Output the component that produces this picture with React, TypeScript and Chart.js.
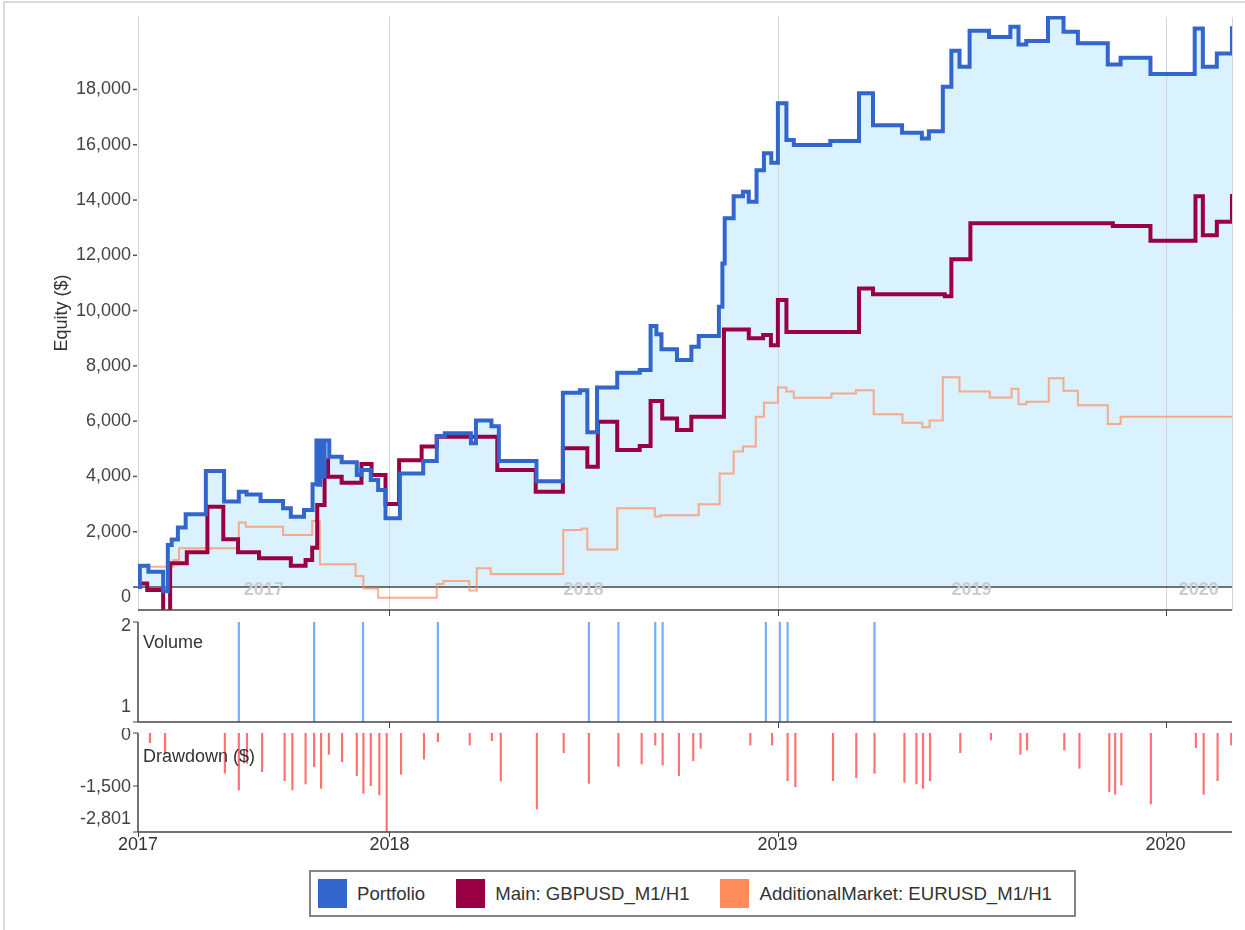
import React, { useEffect, useRef } from 'react';
import { Chart, registerables } from 'chart.js';

Chart.register(...registerables);

const FONT_FAMILY = '"Liberation Sans", Arial, Helvetica, sans-serif';

// ---- axis ranges / ticks (decimal years on x) ----
const xStart = 2017.3522;
const xEnd = 2020.1711;
const yearBoundaries = [2018, 2019, 2020];
const yearLabels = ['2017', '2018', '2019', '2020'];
const bottomTickValues = [xStart, 2018, 2019, 2020];

const equityTicks = [2000, 4000, 6000, 8000, 10000, 12000, 14000, 16000, 18000];
const equityMin = -832;
const equityMax = 20658;
const volumeTicks = [1, 2];
const drawdownTicks = [0, -1500, -2801];

// ---- legend ----
const seriesNames = ['Portfolio', 'Main: GBPUSD_M1/H1', 'AdditionalMarket: EURUSD_M1/H1'];
const seriesColors = ['#3366CC', '#990044', '#FF8C5A'];

// ---- Portfolio equity ----
const portfolioDates = [
  2017.352, 2017.357, 2017.379, 2017.417, 2017.429, 2017.439, 2017.455, 2017.475, 2017.527, 2017.574,
  2017.612, 2017.632, 2017.668, 2017.726, 2017.746, 2017.780, 2017.802, 2017.812, 2017.817, 2017.822,
  2017.827, 2017.833, 2017.845, 2017.877, 2017.916, 2017.928, 2017.952, 2017.971, 2017.990, 2018.027,
  2018.087, 2018.122, 2018.143, 2018.210, 2018.223, 2018.263, 2018.282, 2018.379, 2018.447, 2018.491,
  2018.510, 2018.535, 2018.587, 2018.645, 2018.673, 2018.688, 2018.701, 2018.741, 2018.778, 2018.797,
  2018.849, 2018.858, 2018.864, 2018.887, 2018.911, 2018.926, 2018.946, 2018.965, 2018.984, 2019.001,
  2019.023, 2019.042, 2019.136, 2019.210, 2019.246, 2019.321, 2019.372, 2019.390, 2019.426, 2019.448,
  2019.469, 2019.495, 2019.545, 2019.600, 2019.621, 2019.641, 2019.697, 2019.737, 2019.774, 2019.851,
  2019.884, 2019.961, 2020.075, 2020.096, 2020.132, 2020.171,
];
const portfolioValues = [
  0, 770, 550, -150, 1520, 1720, 2150, 2630, 4200, 3090,
  3450, 3350, 3110, 2850, 2540, 2790, 3720, 5300, 3700, 5300,
  4000, 5300, 4710, 4510, 4050, 4230, 3870, 3510, 2490, 4110,
  4560, 5460, 5560, 5200, 6020, 5820, 4560, 3830, 7030, 7120,
  5600, 7220, 7750, 7850, 9440, 9140, 8600, 8210, 8690, 9080,
  10140, 11700, 13340, 14140, 14300, 13940, 15080, 15690, 15350, 17500,
  16170, 15990, 16140, 17860, 16710, 16430, 16230, 16490, 18100, 19400,
  18820, 20120, 19900, 20270, 19630, 19750, 20600, 20090, 19670, 18900,
  19150, 18560, 20210, 18820, 19300, 20290,
];

// ---- Main: GBPUSD equity ----
const mainDates = [
  2017.352, 2017.357, 2017.376, 2017.417, 2017.435, 2017.478, 2017.531, 2017.572, 2017.610, 2017.664,
  2017.746, 2017.784, 2017.801, 2017.814, 2017.833, 2017.842, 2017.877, 2017.928, 2017.954, 2017.990,
  2018.025, 2018.083, 2018.122, 2018.278, 2018.377, 2018.447, 2018.510, 2018.537, 2018.587, 2018.645,
  2018.673, 2018.703, 2018.741, 2018.778, 2018.862, 2018.926, 2018.963, 2018.983, 2019.001, 2019.023,
  2019.210, 2019.246, 2019.431, 2019.448, 2019.497, 2019.864, 2019.961, 2020.077, 2020.096, 2020.132,
  2020.171,
];
const mainValues = [
  0, 130, -110, -900, 860, 1260, 2900, 1730, 1260, 1040,
  770, 980, 1420, 2970, 4590, 3990, 3770, 4450, 4050, 3000,
  4590, 5080, 5440, 4230, 3450, 5020, 4350, 5980, 4960, 5100,
  6730, 6100, 5680, 6160, 9320, 9000, 9120, 8750, 10380, 9230,
  10800, 10590, 10520, 11860, 13160, 13060, 12530, 14140, 12730, 13210,
  14220,
];

// ---- AdditionalMarket: EURUSD equity ----
const additionalDates = [
  2017.352, 2017.357, 2017.443, 2017.458, 2017.612, 2017.630, 2017.726, 2017.801, 2017.821, 2017.913,
  2017.933, 2017.971, 2018.122, 2018.139, 2018.206, 2018.225, 2018.261, 2018.448, 2018.495, 2018.510,
  2018.587, 2018.684, 2018.699, 2018.797, 2018.851, 2018.887, 2018.911, 2018.944, 2018.965, 2019.001,
  2019.023, 2019.042, 2019.139, 2019.202, 2019.248, 2019.322, 2019.373, 2019.392, 2019.426, 2019.469,
  2019.547, 2019.603, 2019.621, 2019.641, 2019.699, 2019.737, 2019.774, 2019.851, 2019.884, 2020.171,
];
const additionalValues = [
  0, 735, 980, 1400, 2330, 2180, 1880, 2390, 820, 400,
  -50, -390, 110, 220, -130, 680, 470, 2060, 2120, 1360,
  2850, 2550, 2600, 2990, 4110, 4900, 5080, 6160, 6670, 7220,
  7070, 6850, 7000, 7120, 6250, 5940, 5780, 6020, 7590, 7070,
  6860, 7170, 6610, 6700, 7550, 7100, 6580, 5900, 6160, 6160,
];

// ---- Volume ----
const volumeDates = [
  2017.612, 2017.806, 2017.932, 2018.125, 2018.514, 2018.590, 2018.685, 2018.704, 2018.970, 2019.006,
  2019.026, 2019.250,
];
const volumeValues = [2, 2, 2, 2, 2, 2, 2, 2, 2, 2, 2, 2];

// ---- Drawdown ----
const drawdownDates = [
  2017.383, 2017.422, 2017.576, 2017.612, 2017.633, 2017.672, 2017.730, 2017.750, 2017.784, 2017.806,
  2017.824, 2017.844, 2017.878, 2017.916, 2017.933, 2017.952, 2017.974, 2017.993, 2018.030, 2018.089,
  2018.125, 2018.207, 2018.264, 2018.287, 2018.380, 2018.449, 2018.514, 2018.590, 2018.650, 2018.685,
  2018.704, 2018.746, 2018.783, 2018.802, 2018.930, 2018.986, 2019.026, 2019.046, 2019.143, 2019.203,
  2019.250, 2019.327, 2019.358, 2019.375, 2019.393, 2019.471, 2019.550, 2019.626, 2019.643, 2019.739,
  2019.778, 2019.855, 2019.870, 2019.886, 2019.962, 2020.078, 2020.098, 2020.134, 2020.169,
];
const drawdownValues = [
  -274, -575, -1141, -1613, -858, -1094, -1349, -1613, -1443, -952,
  -1566, -604, -811, -1207, -1707, -1490, -1754, -2801, -1170, -736,
  -245, -340, -217, -1358, -2150, -557, -1424, -940, -877, -340,
  -905, -1207, -783, -434, -340, -340, -1349, -1519, -1349, -1264,
  -1141, -1396, -1443, -1566, -1349, -557, -198, -604, -481, -481,
  -1000, -1660, -1735, -1471, -2009, -415, -1735, -1349, -340,
];

const fmt = (v: number) =>
  (v < 0 ? '-' : '') + Math.abs(v).toString().replace(/\B(?=(\d{3})+(?!\d))/g, ',');

const pts = (xs: number[], ys: number[]) => xs.map((x, i) => ({ x, y: ys[i] }));

const AXIS_COLOR = '#444';
const LABEL_COLOR = '#444';
const GRID_COLOR = '#D4D4D4';

const xScaleOpts = {
  type: 'linear' as const,
  min: xStart,
  max: xEnd,
  display: false,
  offset: false,
  grid: { offset: false },
};

function hline(ctx: CanvasRenderingContext2D, x1: number, x2: number, y: number) {
  ctx.beginPath();
  ctx.moveTo(x1, y);
  ctx.lineTo(x2, y);
  ctx.stroke();
}
function vline(ctx: CanvasRenderingContext2D, x: number, y1: number, y2: number) {
  ctx.beginPath();
  ctx.moveTo(x, y1);
  ctx.lineTo(x, y2);
  ctx.stroke();
}

const mainDecor = {
  id: 'mainDecor',
  beforeDatasetsDraw(chart: any) {
    const { ctx, chartArea: a } = chart;
    const x = chart.scales.x;
    const y = chart.scales.y;
    ctx.save();
    ctx.lineWidth = 1;
    ctx.strokeStyle = GRID_COLOR;
    for (const yr of yearBoundaries) {
      const px = Math.round(x.getPixelForValue(yr)) + 0.5;
      vline(ctx, px, a.top + 1, a.bottom);
    }
    vline(ctx, Math.round(a.left) + 0.5, a.top + 1, a.bottom);
    vline(ctx, Math.round(a.right) + 0.5, a.top + 1, a.bottom);
    // zero line
    const y0 = y.getPixelForValue(0);
    ctx.strokeStyle = AXIS_COLOR;
    ctx.lineWidth = 1.5;
    hline(ctx, a.left - 5, a.right, y0);
    // year names inside the panel
    ctx.font = `bold 18px ${FONT_FAMILY}`;
    ctx.fillStyle = '#CCCCCC';
    ctx.textAlign = 'center';
    ctx.textBaseline = 'middle';
    const edges = [xStart, ...yearBoundaries, xEnd];
    yearLabels.forEach((lab, i) => {
      const cx = (x.getPixelForValue(edges[i]) + x.getPixelForValue(edges[i + 1])) / 2;
      ctx.fillText(lab, cx, y0 + 3);
    });
    ctx.restore();
  },
  afterDraw(chart: any) {
    const { ctx, chartArea: a } = chart;
    const x = chart.scales.x;
    const y = chart.scales.y;
    ctx.save();
    // bottom axis
    ctx.strokeStyle = AXIS_COLOR;
    ctx.lineWidth = 1.5;
    hline(ctx, a.left, a.right, a.bottom);
    ctx.lineWidth = 1;
    for (const yr of yearBoundaries) {
      const px = Math.round(x.getPixelForValue(yr)) + 0.5;
      vline(ctx, px, a.bottom, a.bottom + 6);
    }
    // y labels
    ctx.font = `18px ${FONT_FAMILY}`;
    ctx.fillStyle = LABEL_COLOR;
    ctx.textAlign = 'right';
    ctx.textBaseline = 'middle';
    ctx.strokeStyle = '#555';
    ctx.lineWidth = 1.5;
    for (const v of equityTicks) {
      const py = y.getPixelForValue(v);
      ctx.fillText(fmt(v), a.left - 7, py);
      hline(ctx, a.left - 5, a.left - 1, py);
    }
    ctx.fillText('0', a.left - 7, y.getPixelForValue(0) + 10);
    // title
    ctx.save();
    ctx.translate(62, (a.top + a.bottom) / 2);
    ctx.rotate(-Math.PI / 2);
    ctx.textAlign = 'center';
    ctx.fillStyle = '#333';
    ctx.fillText('Equity ($)', 0, 0);
    ctx.restore();
    ctx.restore();
  },
};

const volumeDecor = {
  id: 'volumeDecor',
  afterDraw(chart: any) {
    const { ctx, chartArea: a } = chart;
    const x = chart.scales.x;
    const y = chart.scales.y;
    ctx.save();
    ctx.strokeStyle = AXIS_COLOR;
    ctx.lineWidth = 1.5;
    vline(ctx, a.left, a.top, a.bottom);
    hline(ctx, a.left, a.right, a.bottom);
    ctx.lineWidth = 1;
    for (const v of volumeTicks) hline(ctx, a.left - 5, a.left, y.getPixelForValue(v));
    for (const yr of yearBoundaries) {
      const px = Math.round(x.getPixelForValue(yr)) + 0.5;
      vline(ctx, px, a.bottom, a.bottom + 6);
    }
    ctx.font = `18px ${FONT_FAMILY}`;
    ctx.fillStyle = LABEL_COLOR;
    ctx.textAlign = 'right';
    ctx.textBaseline = 'middle';
    ctx.fillText(String(volumeTicks[1]), a.left - 7, y.getPixelForValue(volumeTicks[1]) + 4);
    ctx.fillText(String(volumeTicks[0]), a.left - 7, y.getPixelForValue(volumeTicks[0]) - 15);
    ctx.textAlign = 'left';
    ctx.fillStyle = '#333';
    ctx.fillText('Volume', a.left + 5, a.top + 21);
    ctx.restore();
  },
};

const drawdownDecor = {
  id: 'drawdownDecor',
  afterDraw(chart: any) {
    const { ctx, chartArea: a } = chart;
    const x = chart.scales.x;
    const y = chart.scales.y;
    ctx.save();
    ctx.strokeStyle = AXIS_COLOR;
    ctx.lineWidth = 1.5;
    vline(ctx, a.left, a.top, a.bottom);
    hline(ctx, a.left, a.right, a.bottom);
    ctx.lineWidth = 1;
    for (const v of drawdownTicks) hline(ctx, a.left - 5, a.left, y.getPixelForValue(v));
    for (const t of bottomTickValues) {
      const px = Math.round(x.getPixelForValue(t)) + 0.5;
      vline(ctx, px, a.bottom, a.bottom + 5);
    }
    ctx.font = `18px ${FONT_FAMILY}`;
    ctx.fillStyle = LABEL_COLOR;
    ctx.textAlign = 'right';
    ctx.textBaseline = 'middle';
    const offsets = [2, 1, -13];
    drawdownTicks.forEach((v, i) => {
      ctx.fillText(fmt(v), a.left - 7, y.getPixelForValue(v) + offsets[i]);
    });
    ctx.textAlign = 'center';
    ctx.fillStyle = '#333';
    bottomTickValues.forEach((t, i) => {
      ctx.fillText(yearLabels[i], x.getPixelForValue(t), a.bottom + 13);
    });
    ctx.textAlign = 'left';
    ctx.fillText('Drawdown ($)', a.left + 5, a.top + 24);
    ctx.restore();
  },
};

const baseOptions = {
  animation: false as const,
  responsive: false,
  maintainAspectRatio: false,
  events: [] as any[],
  plugins: {
    legend: { display: false },
    tooltip: { enabled: false },
  },
};

export default function App() {
  const mainRef = useRef<HTMLCanvasElement>(null);
  const volRef = useRef<HTMLCanvasElement>(null);
  const ddRef = useRef<HTMLCanvasElement>(null);

  useEffect(() => {
    const charts: Chart[] = [];
    charts.push(
      new Chart(mainRef.current as HTMLCanvasElement, {
        type: 'line',
        data: {
          datasets: [
            {
              label: seriesNames[0],
              data: pts(portfolioDates, portfolioValues),
              borderColor: seriesColors[0],
              backgroundColor: '#DAF2FE',
              borderWidth: 4,
              fill: 'origin',
              stepped: 'before',
              pointRadius: 0,
              order: 0,
            },
            {
              label: seriesNames[1],
              data: pts(mainDates, mainValues),
              borderColor: seriesColors[1],
              borderWidth: 4,
              fill: false,
              stepped: 'before',
              pointRadius: 0,
              order: 1,
            },
            {
              label: seriesNames[2],
              data: pts(additionalDates, additionalValues),
              borderColor: 'rgba(255,140,90,0.7)',
              borderWidth: 2,
              fill: false,
              stepped: 'before',
              pointRadius: 0,
              order: 2,
            },
          ],
        } as any,
        options: {
          ...baseOptions,
          layout: { padding: { left: 138, right: 13, top: 16, bottom: 10 } },
          scales: {
            x: xScaleOpts,
            y: { type: 'linear', min: equityMin, max: equityMax, display: false },
          },
          plugins: {
            ...baseOptions.plugins,
            filler: { drawTime: 'beforeDraw' },
          },
        } as any,
        plugins: [mainDecor],
      })
    );
    charts.push(
      new Chart(volRef.current as HTMLCanvasElement, {
        type: 'bar',
        data: {
          datasets: [
            {
              label: 'Volume',
              data: pts(volumeDates, volumeValues),
              backgroundColor: '#74AEF8',
              barThickness: 1.5,
            },
          ],
        } as any,
        options: {
          ...baseOptions,
          layout: { padding: { left: 138, right: 13, top: 7, bottom: 8 } },
          scales: {
            x: xScaleOpts,
            y: { type: 'linear', min: 1, max: 2, display: false },
          },
        } as any,
        plugins: [volumeDecor],
      })
    );
    charts.push(
      new Chart(ddRef.current as HTMLCanvasElement, {
        type: 'bar',
        data: {
          datasets: [
            {
              label: 'Drawdown ($)',
              data: pts(drawdownDates, drawdownValues),
              backgroundColor: '#FF7070',
              barThickness: 1.5,
            },
          ],
        } as any,
        options: {
          ...baseOptions,
          layout: { padding: { left: 138, right: 13, top: 5, bottom: 26 } },
          scales: {
            x: xScaleOpts,
            y: { type: 'linear', min: -2801, max: 0, display: false },
          },
        } as any,
        plugins: [drawdownDecor],
      })
    );
    return () => charts.forEach((c) => c.destroy());
  }, []);

  return (
    <div style={{ position: 'absolute', left: 0, top: 0, width: 1245, height: 930, overflow: 'hidden', background: '#fff' }}>
      <div
        style={{
          position: 'absolute',
          left: 3,
          top: 1,
          width: 1300,
          height: 1000,
          borderTop: '2px solid #DADADA',
          borderLeft: '2px solid #DADADA',
        }}
      />
      <canvas ref={mainRef} width={1245} height={620} style={{ position: 'absolute', left: 0, top: 0, width: 1245, height: 620 }} />
      <canvas ref={volRef} width={1245} height={115} style={{ position: 'absolute', left: 0, top: 615, width: 1245, height: 115 }} />
      <canvas ref={ddRef} width={1245} height={130} style={{ position: 'absolute', left: 0, top: 728, width: 1245, height: 130 }} />
      <div
        style={{
          position: 'absolute',
          left: 309,
          top: 870,
          width: 767,
          height: 47,
          boxSizing: 'border-box',
          border: '2px solid #858585',
          display: 'flex',
          alignItems: 'center',
          paddingLeft: 7,
          fontFamily: FONT_FAMILY,
          fontSize: 18.6,
          color: '#333',
          background: '#fff',
          whiteSpace: 'nowrap',
        }}
      >
        {seriesNames.map((name, i) => (
          <div key={name} style={{ display: 'flex', alignItems: 'center', marginRight: 31 }}>
            <span style={{ display: 'inline-block', width: 29, height: 29, background: seriesColors[i], marginRight: 10 }} />
            <span>{name}</span>
          </div>
        ))}
      </div>
    </div>
  );
}
